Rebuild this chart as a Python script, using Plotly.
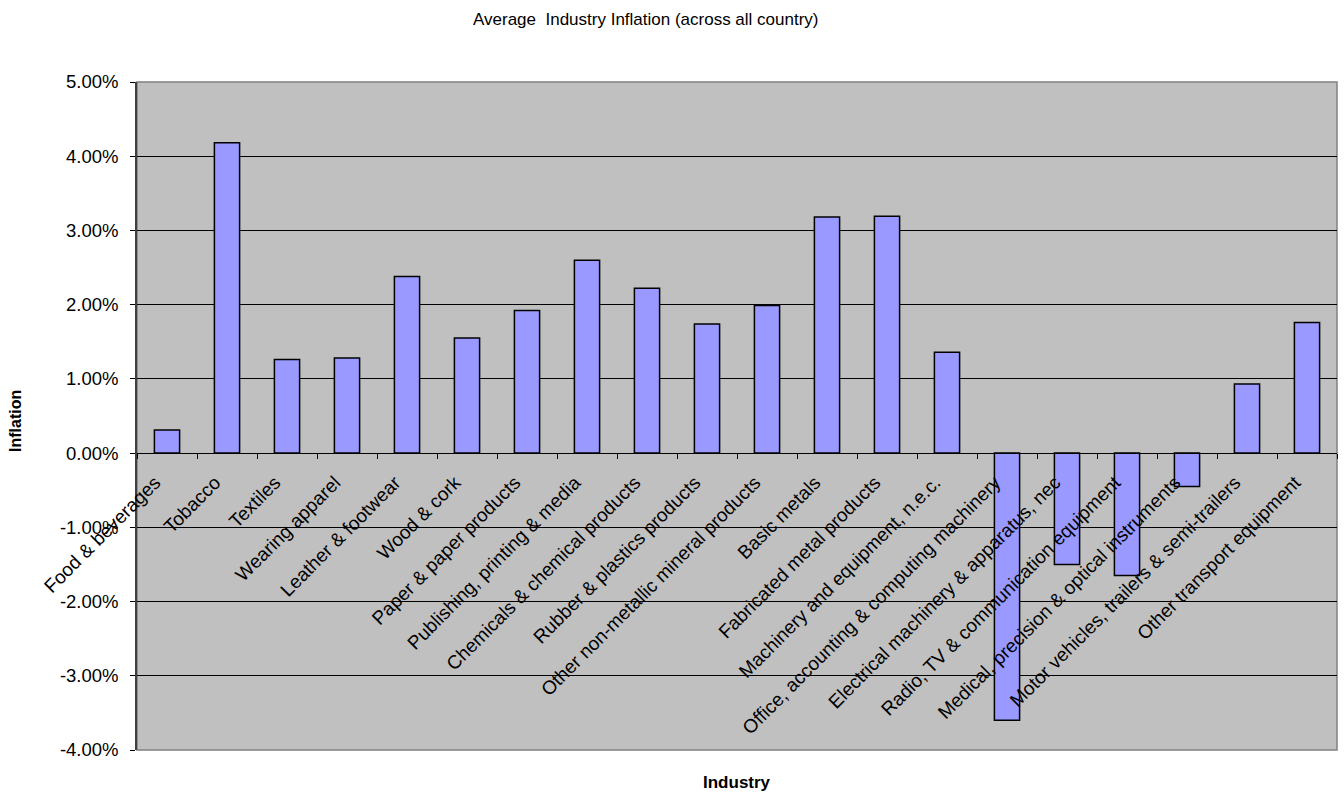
import plotly.graph_objects as go

industries = [
    "Food & beverages", "Tobacco", "Textiles", "Wearing apparel",
    "Leather & footwear", "Wood & cork", "Paper & paper products",
    "Publishing, printing & media", "Chemicals & chemical products",
    "Rubber & plastics products", "Other non-metallic mineral products",
    "Basic metals", "Fabricated metal products",
    "Machinery and equipment, n.e.c.",
    "Office, accounting & computing machinery",
    "Electrical machinery & apparatus, nec",
    "Radio, TV & communication equipment",
    "Medical, precision & optical instruments",
    "Motor vehicles, trailers & semi-trailers",
    "Other transport equipment",
]

inflation = [
    0.0031, 0.0418, 0.0126, 0.0128, 0.0238, 0.0155, 0.0192, 0.0260,
    0.0222, 0.0174, 0.0199, 0.0318, 0.0319, 0.0136, -0.0360, -0.0150,
    -0.0165, -0.0045, 0.0093, 0.0176,
]

y_tickvals = [-0.04, -0.03, -0.02, -0.01, 0.0, 0.01, 0.02, 0.03, 0.04, 0.05]
y_ticktext = ["-4.00%", "-3.00%", "-2.00%", "-1.00%", "0.00%",
              "1.00%", "2.00%", "3.00%", "4.00%", "5.00%"]

y_min, y_max = -0.04, 0.05
FONT = "Liberation Sans, Arial, sans-serif"

fig = go.Figure(
    go.Bar(
        x=industries,
        y=inflation,
        marker=dict(color="#9999FF", line=dict(color="#000000", width=1.5)),
        hoverinfo="x+y",
    )
)

fig.update_layout(
    width=1344,
    height=792,
    margin=dict(l=137, r=7, t=82, b=42),
    paper_bgcolor="#FFFFFF",
    plot_bgcolor="#C0C0C0",
    bargap=0.58,
    showlegend=False,
    font=dict(family=FONT, size=17, color="#000000"),
    xaxis=dict(
        type="category",
        anchor="free",
        # category axis sits on the zero line
        position=(0 - y_min) / (y_max - y_min),
        showline=True,
        linecolor="#000000",
        linewidth=1,
        ticks="outside",
        tickson="boundaries",
        ticklen=5,
        tickcolor="#000000",
        tickangle=-45,
        ticklabelstandoff=10,
        ticklabelshift=-12,
        tickfont=dict(family=FONT, size=19),
        showgrid=False,
        zeroline=False,
    ),
    yaxis=dict(
        range=[y_min, y_max],
        tickvals=y_tickvals,
        ticktext=y_ticktext,
        tickfont=dict(family=FONT, size=18.5),
        ticks="outside",
        ticklen=5,
        tickcolor="#000000",
        ticklabelstandoff=8,
        showline=True,
        linecolor="#404040",
        linewidth=1.5,
        showgrid=True,
        gridcolor="#000000",
        gridwidth=1,
        zeroline=False,
    ),
    shapes=[
        dict(type="rect", xref="paper", yref="paper", x0=0, x1=1, y0=0, y1=1,
             line=dict(color="#808080", width=1.5), layer="below"),
    ],
    annotations=[
        dict(text="Average  Industry Inflation (across all country)",
             xref="paper", yref="paper", x=0.424, y=1.093,
             xanchor="center", yanchor="middle", showarrow=False,
             font=dict(family=FONT, size=17)),
        dict(text="<b>Inflation</b>", xref="paper", yref="paper",
             x=-0.1017, y=0.4925, textangle=-90, xanchor="center",
             yanchor="middle", showarrow=False, font=dict(family=FONT, size=16)),
        dict(text="<b>Industry</b>", xref="paper", yref="paper",
             x=0.5, y=-0.048, xanchor="center", yanchor="middle",
             showarrow=False, font=dict(family=FONT, size=17)),
    ],
)

fig.write_html("out.html")
